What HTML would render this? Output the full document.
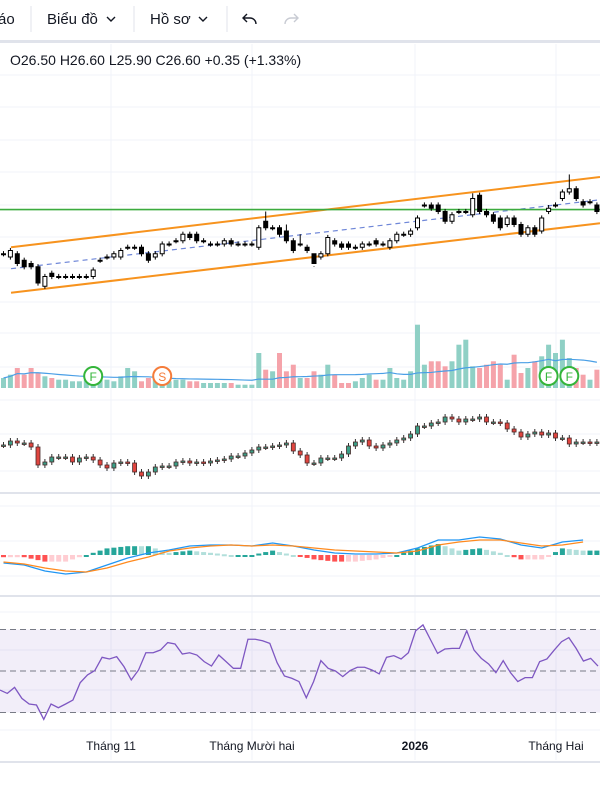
<!DOCTYPE html>
<html><head><meta charset="utf-8">
<style>
html,body{margin:0;padding:0;background:#fff;width:600px;height:800px;overflow:hidden;font-family:"Liberation Sans","Noto Sans CJK SC",sans-serif;}
svg{position:absolute;left:0;top:0;}
</style></head>
<body>
<svg id="chart" width="600" height="800" viewBox="0 0 600 800">
  <rect x="0" y="0" width="600" height="800" fill="#fff"/>
  <g>
    <text x="-2" y="24" font-size="15" fill="#131722">áo</text>
    <line x1="31" y1="6" x2="31" y2="32" stroke="#e0e3eb"/>
    <text x="47" y="24" font-size="15" fill="#131722">Biểu đồ</text>
    <path d="M107 17 l4 4 l4 -4" fill="none" stroke="#131722" stroke-width="1.4"/>
    <line x1="134" y1="6" x2="134" y2="32" stroke="#e0e3eb"/>
    <text x="150" y="24" font-size="15" fill="#131722">Hồ sơ</text>
    <path d="M199 17 l4 4 l4 -4" fill="none" stroke="#131722" stroke-width="1.4"/>
    <line x1="227" y1="6" x2="227" y2="32" stroke="#e0e3eb"/>
    <path d="M247 14 l-4 4 l4 4 M243 18 h7 a6 6 0 0 1 6 6" fill="none" stroke="#131722" stroke-width="1.4"/>
    <path d="M294 14 l4 4 l-4 4 M298 18 h-7 a6 6 0 0 0 -6 6" fill="none" stroke="#c8cbd3" stroke-width="1.4"/>
    <rect x="0" y="40" width="600" height="3" fill="#e0e3eb"/>
  </g>
  <g id="grid"></g>
  <g id="panes"></g>
  <text x="10" y="65" font-size="14" fill="#131722">O26.50  H26.60  L25.90  C26.60  +0.35 (+1.33%)</text>
  <g>
    <text x="111" y="750" font-size="12" fill="#131722" text-anchor="middle">Tháng 11</text>
    <text x="252" y="750" font-size="12" fill="#131722" text-anchor="middle">Tháng Mười hai</text>
    <text x="415" y="750" font-size="12" font-weight="bold" fill="#131722" text-anchor="middle">2026</text>
    <text x="556" y="750" font-size="12" fill="#131722" text-anchor="middle">Tháng Hai</text>
    <rect x="0" y="761" width="600" height="2" fill="#e0e3eb"/>
  </g>
</svg>
<script>
const opens = [25.75,25.70,25.75,25.65,25.60,25.55,25.25,25.45,25.40,25.40,25.40,25.40,25.40,25.40,25.65,25.70,25.70,25.70,25.85,25.85,25.85,25.75,25.70,25.75,25.90,25.95,25.95,26.05,26.05,25.95,25.90,25.90,25.90,25.95,25.90,25.90,25.90,25.85,26.25,26.15,26.15,26.10,25.95,25.90,25.85,25.75,25.70,25.75,25.95,25.90,25.90,25.85,25.85,25.90,25.95,25.90,25.85,25.95,26.05,26.05,26.15,26.50,26.50,26.50,26.40,26.25,26.40,26.40,26.35,26.65,26.40,26.35,26.30,26.20,26.30,26.20,26.05,26.15,26.10,26.40,26.50,26.60,26.70,26.75,26.55,26.55,26.50];
const closes = [25.75,25.80,25.60,25.55,25.55,25.30,25.40,25.40,25.40,25.40,25.40,25.40,25.40,25.50,25.65,25.70,25.75,25.80,25.85,25.85,25.75,25.65,25.75,25.90,25.90,25.95,26.05,26.00,25.95,25.95,25.90,25.90,25.95,25.90,25.90,25.90,25.90,26.15,26.15,26.15,26.05,25.95,25.80,25.90,25.80,25.60,25.75,26.00,25.90,25.85,25.85,25.85,25.90,25.90,25.90,25.90,25.95,26.05,26.05,26.10,26.30,26.50,26.45,26.40,26.25,26.35,26.40,26.40,26.60,26.40,26.35,26.25,26.15,26.30,26.20,26.05,26.15,26.05,26.30,26.45,26.50,26.70,26.75,26.60,26.50,26.55,26.40];
const spikeHighs = {38:26.40, 43:26.05, 41:26.20, 45:25.55, 82:26.97, 68:26.68, 79:26.50};
const volumes = [100,133,200,133,200,150,117,100,83,83,67,67,83,67,83,83,67,117,200,167,67,100,100,83,67,83,83,67,67,50,50,50,50,50,33,33,33,350,183,167,350,167,233,100,100,167,133,233,133,50,50,67,100,133,83,83,200,100,83,167,633,233,267,267,217,267,433,483,217,200,233,267,233,83,333,150,200,267,317,433,350,483,300,200,133,83,183];
const idxValues = [1400,1416,1408,1408,1392,1320,1332,1352,1352,1352,1332,1348,1352,1340,1320,1308,1328,1332,1328,1292,1276,1292,1312,1316,1316,1332,1336,1328,1332,1328,1336,1340,1344,1356,1356,1368,1380,1392,1392,1396,1400,1408,1376,1360,1328,1328,1348,1348,1348,1364,1396,1412,1420,1396,1388,1400,1408,1420,1428,1444,1476,1476,1488,1492,1512,1504,1492,1504,1504,1512,1492,1492,1488,1464,1452,1432,1444,1452,1440,1448,1428,1428,1404,1412,1412,1408,1412];
const macdLine = [-0.08,-0.10,-0.16,-0.19,-0.17,-0.10,-0.03,0.02,0.05,0.09,0.10,0.10,0.09,0.12,0.09,0.05,0.02,0.01,0.01,0.02,0.07,0.15,0.15,0.18,0.16,0.10,0.07,0.13,0.15];
const signalLine = [-0.07,-0.09,-0.13,-0.16,-0.17,-0.13,-0.07,-0.02,0.04,0.07,0.09,0.10,0.09,0.10,0.09,0.07,0.05,0.04,0.03,0.02,0.04,0.10,0.13,0.15,0.15,0.12,0.09,0.10,0.13];
const rsiValues = [40.8,39.2,42.1,36.8,34.1,33.6,26.7,34.1,32.3,34.1,36.0,44.4,48.1,50.2,56.6,55.8,56.9,52.1,45.7,50.5,58.8,58.8,60.1,63.7,63.0,58.2,58.8,57.7,54.5,52.4,57.7,54.5,51.3,51.3,65.3,65.3,64.6,63.3,54.0,47.6,46.5,44.9,37.1,44.9,55.0,51.3,50.0,47.3,50.2,51.8,51.8,50.5,48.6,56.6,57.4,55.8,58.8,69.4,72.2,65.3,58.5,60.6,60.9,60.9,69.4,60.1,56.1,53.4,49.2,55.0,49.2,44.9,46.8,46.8,54.5,55.8,60.1,64.1,66.1,60.9,54.8,56.1,52.4];
const channelUpper = [25.85,26.93];
const channelLower = [25.15,26.22];
const channelMid = [25.52,26.58];
const supportLevel = 26.43;
const markerIdx = [13,23,79,82];
const markerLabels = ['F','S','F','F'];

const NS='http://www.w3.org/2000/svg';
function mk(tag,attrs,parent){const e=document.createElementNS(NS,tag);for(const k in attrs)e.setAttribute(k,attrs[k]);parent.appendChild(e);return e;}
const grid=document.getElementById('grid'), panes=document.getElementById('panes');
const xS=i=>3.5+6.9*i;
const yP=p=>205-(p-26.5)*65;
const yV=v=>388-v/10;
const yI=v=>470-(v-1300)/4;
const yM=v=>555-v*100;
const yR=v=>671-(v-50)*2.075;

[111,252,415,556].forEach(x=>{const l=mk('line',{x1:x,y1:44,x2:x,y2:760,stroke:'#f0f3fa'},grid);

});
[75,107,140,172,205,237,268,302,333,367,434,471,506,541,576,612,650,690,730].forEach(y=>{const l=mk('line',{x1:0,y1:y,x2:600,y2:y,stroke:'#f0f3fa'},grid);

});
[[400,'#f0f3fa',1],[493,'#e0e3eb',2],[596,'#e0e3eb',2]].forEach(s=>{const l=mk('rect',{x:0,y:s[0]-s[2]/2,width:600,height:s[2],fill:s[1]},grid);

});

const gVol=mk('g',{},panes);


volumes.forEach((v,i)=>{const up=closes[i]>=opens[i];const r=mk('rect',{x:xS(i)-2.5,y:yV(v),width:5,height:388-yV(v),fill:up?'#8fd0c5':'#f5a3aa'},gVol);

});
let vma=[];volumes.forEach((v,i)=>{const s=volumes.slice(Math.max(0,i-19),i+1);vma.push(s.reduce((a,b)=>a+b,0)/s.length);});
const vl=mk('polyline',{points:vma.map((v,i)=>xS(i)+','+yV(v)).join(' '),fill:'none',stroke:'#4a9fe6','stroke-width':1.2},gVol);


markerIdx.forEach((k,j)=>{const c=markerLabels[j]==='S'?'#f57c3a':'#34b53a';const g=mk('g',{},gVol);


mk('circle',{cx:xS(k),cy:376,r:9,fill:'#fff',stroke:c,'stroke-width':2},g);
const t=mk('text',{x:xS(k),y:381,'font-size':12,'text-anchor':'middle',fill:c},g);t.textContent=markerLabels[j];});

const gCh=mk('g',{},panes);


const x0=xS(1.09),x1=xS(86.45);
const up1=mk('line',{x1:x0,y1:yP(channelUpper[0]),x2:x1,y2:yP(channelUpper[1]),stroke:'#f7931e','stroke-width':2},gCh);


const lo1=mk('line',{x1:x0,y1:yP(channelLower[0]),x2:x1,y2:yP(channelLower[1]),stroke:'#f7931e','stroke-width':2},gCh);


const mi1=mk('line',{x1:x0,y1:yP(channelMid[0]),x2:x1,y2:yP(channelMid[1]),stroke:'#6f87d8','stroke-width':1.2,'stroke-dasharray':'5 4'},gCh);


const sl=mk('line',{x1:0,y1:yP(supportLevel),x2:600,y2:yP(supportLevel),stroke:'#3bab3f','stroke-width':1.6},panes);



const gC=mk('g',{},panes);


opens.forEach((o,i)=>{const c=closes[i];const up=c>=o;const hi=spikeHighs[i]!==undefined?spikeHighs[i]:Math.max(o,c)+0.04;const lo=Math.min(o,c)-0.04;
const g=mk('g',{},gC);


mk('line',{x1:xS(i),y1:yP(hi),x2:xS(i),y2:yP(lo),stroke:'#000','stroke-width':1},g);
const t=yP(Math.max(o,c)),b=yP(Math.min(o,c));
mk('rect',{x:xS(i)-2,y:t,width:4,height:Math.max(1,b-t),fill:up?'#fff':'#000',stroke:'#000','stroke-width':1},g);});

const gI=mk('g',{},panes);


idxValues.forEach((c,i)=>{const o=i?idxValues[i-1]:c;const up=c>=o;
const g=mk('g',{},gI);


const t=yI(Math.max(o,c)),b=yI(Math.min(o,c));
mk('line',{x1:xS(i),y1:t-3,x2:xS(i),y2:b+3,stroke:'#333','stroke-width':1},g);
mk('rect',{x:xS(i)-2,y:t,width:4,height:Math.max(1.5,b-t),fill:up?'#3a9e86':'#e0453f',stroke:'#4a2a2a','stroke-width':0.8},g);});

const gM=mk('g',{},panes);


const mX=k=>xS(k*3);
function interp(arr,i){const f=i/3,a=Math.floor(f),b=Math.min(arr.length-1,a+1),t=f-a;return arr[Math.min(a,arr.length-1)]*(1-t)+arr[b]*t;}
let prev=0;
for(let i=0;i<87;i++){const h=interp(macdLine,i)-interp(signalLine,i);let col;
if(h>=0)col=h>=prev?'#26a69a':'#b2dfdb';else col=h<prev?'#ff5252':'#ffcdd2';prev=h;
const y0=yM(0),y1=yM(h*2.2);const r=mk('rect',{x:xS(i)-2.5,y:Math.min(y0,y1),width:5,height:Math.max(2,Math.abs(y1-y0)),fill:col},gM);

}
const ml=mk('polyline',{points:macdLine.map((v,k)=>mX(k)+','+yM(v)).join(' '),fill:'none',stroke:'#2196f3','stroke-width':1.3},gM);


const sg=mk('polyline',{points:signalLine.map((v,k)=>mX(k)+','+yM(v)).join(' '),fill:'none',stroke:'#ff8a1e','stroke-width':1.3},gM);



const gR=mk('g',{},panes);


const band=mk('rect',{x:0,y:yR(70),width:600,height:yR(30)-yR(70),fill:'#7e57c2','fill-opacity':0.1},gR);


[70,50,30].forEach(v=>{const l=mk('line',{x1:0,y1:yR(v),x2:600,y2:yR(v),stroke:'#787b86','stroke-dasharray':'6 4'},gR);

});
const rX=i=>i*598/(rsiValues.length-1);
const rl=mk('polyline',{points:rsiValues.map((v,i)=>rX(i)+','+yR(v)).join(' '),fill:'none',stroke:'#7e57c2','stroke-width':1.3},gR);


</script>
</body></html>
